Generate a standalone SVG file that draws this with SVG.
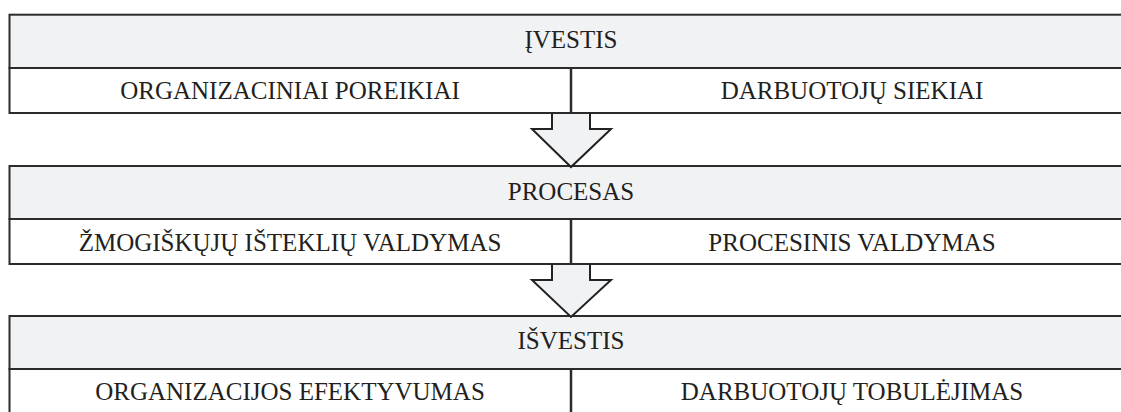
<svg xmlns="http://www.w3.org/2000/svg" width="1121" height="412" viewBox="0 0 1121 412">
<style>
.hdr{fill:#f1f2f4;stroke:#2b2b2b;stroke-width:2}
.low{fill:#ffffff;stroke:#2b2b2b;stroke-width:2}
.mid{stroke:#2b2b2b;stroke-width:2.5;fill:none}
.arr{fill:#f1f2f4;stroke:none}
.arrl{fill:none;stroke:#222;stroke-width:2;stroke-linejoin:miter}
text{font-family:"Liberation Serif","Times New Roman",serif;font-size:25px;fill:#231f20;text-anchor:middle}
</style>
<g id="ivestis">
<rect class="hdr" x="9.5" y="14.7" width="1130" height="53.3"/>
<rect class="low" x="9.5" y="68" width="1130" height="45"/>
<line class="mid" x1="571" y1="68" x2="571" y2="113"/>
<text x="571" y="48.3">ĮVESTIS</text>
<text x="290" y="98.5">ORGANIZACINIAI POREIKIAI</text>
<text x="852" y="98.5">DARBUOTOJŲ SIEKIAI</text>
</g>
<g id="procesas">
<rect class="hdr" x="9.5" y="166" width="1130" height="53"/>
<rect class="low" x="9.5" y="219" width="1130" height="45"/>
<line class="mid" x1="571" y1="219" x2="571" y2="264"/>
<text x="571" y="199.6">PROCESAS</text>
<text x="290" y="250.5">ŽMOGIŠKŲJŲ IŠTEKLIŲ VALDYMAS</text>
<text x="852" y="250.5">PROCESINIS VALDYMAS</text>
</g>
<g id="isvestis">
<rect class="hdr" x="9.5" y="316" width="1130" height="53"/>
<rect class="low" x="9.5" y="369" width="1130" height="60"/>
<line class="mid" x1="571" y1="369" x2="571" y2="414"/>
<text x="571" y="349">IŠVESTIS</text>
<text x="290" y="399.5">ORGANIZACIJOS EFEKTYVUMAS</text>
<text x="852" y="399.5">DARBUOTOJŲ TOBULĖJIMAS</text>
</g>
<g id="connectors">
<polygon class="arr" points="552,114 552,129 532,129 571,166 611,129 590,129 590,114"/>
<path class="arrl" d="M552,113 V129 H532 L571,167 L611,129 H590 V113"/>
<polygon class="arr" points="552,265 552,280 532,280 571,316 611,280 590,280 590,265"/>
<path class="arrl" d="M552,264 V280 H532 L571,317 L611,280 H590 V264"/>
</g>
</svg>
